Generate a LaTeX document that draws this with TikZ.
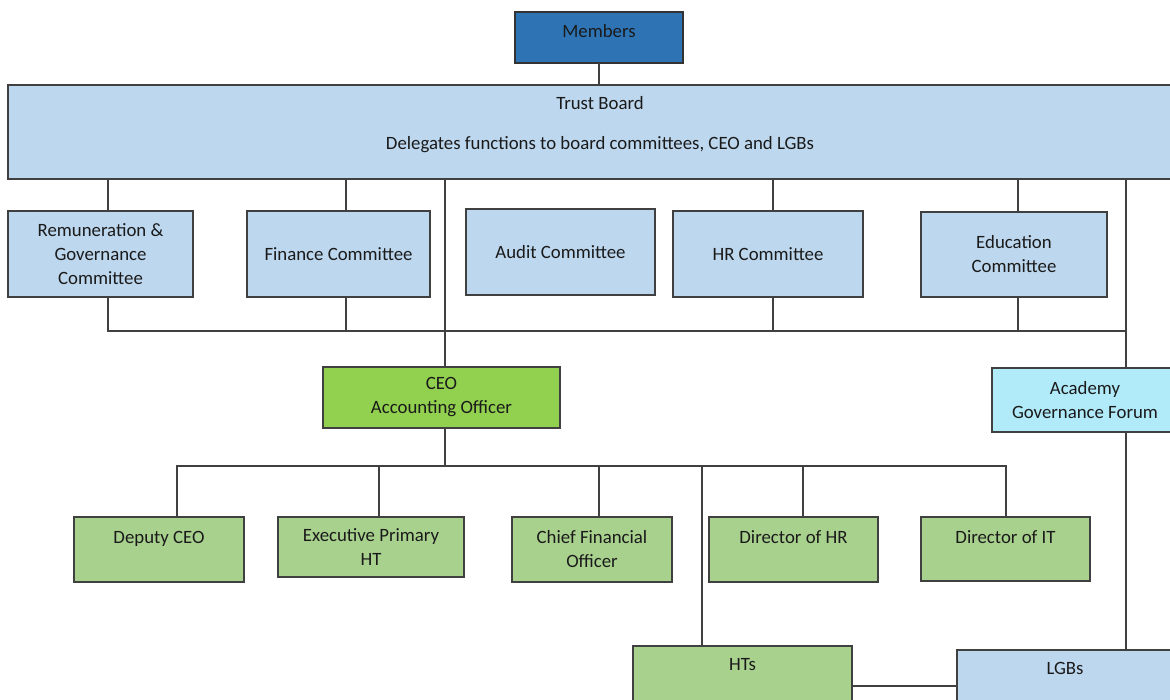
\documentclass[tikz,border=0pt]{standalone}
\usepackage{fontspec}
\setmainfont{Carlito}
\usetikzlibrary{positioning}
\definecolor{memBlue}{HTML}{2E74B5}
\definecolor{boardBlue}{HTML}{BDD7EE}
\definecolor{ceoGreen}{HTML}{92D050}
\definecolor{staffGreen}{HTML}{A9D18E}
\definecolor{forumCyan}{HTML}{B1EBFA}
\definecolor{lineGray}{HTML}{404040}
\definecolor{textDark}{HTML}{1A1A1A}
\tikzset{
  box/.style={rectangle, draw=lineGray, line width=1.2pt, inner sep=0pt,
              outer sep=0pt, align=center, text=textDark,
              font=\fontsize{18.8}{24}\selectfont},
  boxM/.style={box, fill=memBlue, draw=black!80},
  boxB/.style={box, fill=boardBlue},
  boxC/.style={box, fill=ceoGreen},
  boxG/.style={box, fill=staffGreen},
  boxF/.style={box, fill=forumCyan},
  conn/.style={draw=lineGray, line width=1.2pt},
}
\begin{document}
\begin{tikzpicture}[x=1pt, y=-1pt]
    \useasboundingbox (0,0) rectangle (1170,700);
    %% Members + board
    \node[boxM, minimum width=168pt, minimum height=51pt] (mem) at (599,37.5) {Members\\[-10pt]\mbox{}};
    \node[boxB, minimum width=1184pt, minimum height=94pt] (board) at (600,132)
         {Trust Board\\[16pt]Delegates functions to board committees, CEO and LGBs\\[-6pt]\mbox{}};
    \draw[conn] (mem.south) -- (mem.south |- board.north);

    %% Committees
    \node[boxB, minimum width=185pt, minimum height=86pt] (rem) at (100.5,254) {Remuneration \&\\Governance\\Committee};
    \node[boxB, minimum width=183pt, minimum height=86pt] (fin) at (338.5,254) {Finance Committee};
    \node[boxB, minimum width=189pt, minimum height=86pt] (aud) at (560.5,252) {Audit Committee};
    \node[boxB, minimum width=190pt, minimum height=86pt] (hrc) at (768,254) {HR Committee};
    \node[boxB, minimum width=186pt, minimum height=85pt] (edu) at (1014,254.5) {Education\\Committee};
    \draw[conn] ([xshift=7.5pt]rem.north) -- ([xshift=7.5pt]rem.north |- board.south);
    \draw[conn] ([xshift=7.5pt]fin.north) -- ([xshift=7.5pt]fin.north |- board.south);
    \draw[conn] ([xshift=5pt]hrc.north) -- ([xshift=5pt]hrc.north |- board.south);
    \draw[conn] ([xshift=4pt]edu.north) -- ([xshift=4pt]edu.north |- board.south);
    \coordinate (cbus) at (1126,331);
    \draw[conn] ([xshift=7.5pt]rem.south) |- (cbus);
    \draw[conn] ([xshift=7.5pt]fin.south) -- ([xshift=7.5pt]fin.south |- cbus);
    \draw[conn] ([xshift=5pt]hrc.south) -- ([xshift=5pt]hrc.south |- cbus);
    \draw[conn] ([xshift=4pt]edu.south) -- ([xshift=4pt]edu.south |- cbus);

    %% CEO and forum
    \node[boxC, minimum width=237pt, minimum height=61pt] (ceo) at (441.5,397.5) {CEO\\Accounting Officer};
    \node[boxF, minimum width=186pt, minimum height=64pt] (agf) at (1085,400) {Academy\\Governance Forum};
    \draw[conn] ([xshift=3.5pt]ceo.north) -- ([xshift=3.5pt]ceo.north |- board.south);
    \draw[conn] (board.south -| cbus) -- (agf.north -| cbus);

    %% Senior staff
    \node[boxG, minimum width=170pt, minimum height=65pt] (dep) at (159,549.5) {Deputy CEO\\\mbox{}};
    \node[boxG, minimum width=186pt, minimum height=60pt] (exe) at (371,547) {Executive Primary\\HT};
    \node[boxG, minimum width=160pt, minimum height=65pt] (cfo) at (592,549.5) {Chief Financial\\Officer};
    \node[boxG, minimum width=169pt, minimum height=65pt] (dhr) at (793.5,549.5) {Director  of HR\\\mbox{}};
    \node[boxG, minimum width=169pt, minimum height=64pt] (dit) at (1005.5,549) {Director of IT\\\mbox{}};
    \node[boxG, minimum width=219pt, minimum height=60pt] (hts) at (742.5,676) {HTs\\\mbox{}};
    \node[boxB, minimum width=216pt, minimum height=60pt] (lgb) at (1065,680) {LGBs\\\mbox{}};
    \coordinate (sbus) at (445,466);
    \draw[conn] ([xshift=3.5pt]ceo.south) -- (sbus);
    \draw[conn] ([xshift=18pt]dep.north) |- (sbus);
    \draw[conn] (sbus) -| ([xshift=0.5pt]dit.north);
    \draw[conn] ([xshift=8pt]exe.north) -- ([xshift=8pt]exe.north |- sbus);
    \draw[conn] ([xshift=7pt]cfo.north) -- ([xshift=7pt]cfo.north |- sbus);
    \draw[conn] ([xshift=9.5pt]dhr.north) -- ([xshift=9.5pt]dhr.north |- sbus);
    \draw[conn] ([xshift=-40.5pt]hts.north) -- ([xshift=-40.5pt]hts.north |- sbus);
    \draw[conn] (agf.south -| cbus) -- (lgb.north -| cbus);
    \draw[conn] ([yshift=-10pt]hts.east) -- ([yshift=-10pt]hts.east -| lgb.west);
  \end{tikzpicture}
\end{document}
